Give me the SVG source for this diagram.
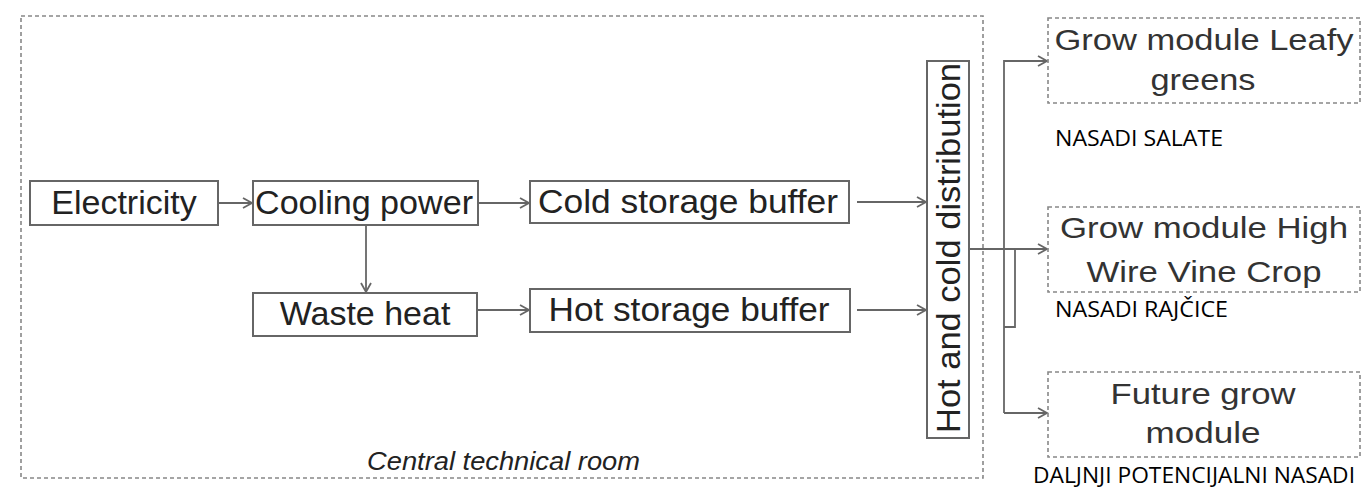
<svg xmlns="http://www.w3.org/2000/svg" width="1366" height="488" viewBox="0 0 1366 488">
<defs>
<style>
.box{fill:#fff;stroke:#666;stroke-width:2}
.dash{fill:none;stroke:#888;stroke-width:1.6;stroke-dasharray:4 3}
.t{font-family:"Liberation Sans",Arial,sans-serif;font-size:34px;fill:#222}
.g{font-family:"Liberation Sans",Arial,sans-serif;font-size:30px;fill:#333}
.n{font-family:"Open Sans","Noto Sans",sans-serif;font-size:21px;fill:#000}
.c{fill:none;stroke:#666;stroke-width:1.8}
</style>
<marker id="ah" markerWidth="12" markerHeight="12" refX="10" refY="6" orient="auto" markerUnits="userSpaceOnUse">
<path d="M1,1 L10,6 L1,11" fill="none" stroke="#666" stroke-width="1.8"/>
</marker>
</defs>
<rect width="1366" height="488" fill="#fff"/>
<g id="room">
<rect x="21" y="16" width="962" height="462" class="dash"/>
<text x="367" y="470" font-family="Liberation Sans,Arial,sans-serif" font-style="italic" font-size="26" fill="#222" textLength="273" lengthAdjust="spacingAndGlyphs">Central technical room</text>
</g>
<g id="connectors">
<path class="c" d="M218,203 H252" marker-end="url(#ah)"/>
<path class="c" d="M478,203 H529" marker-end="url(#ah)"/>
<path class="c" d="M366,225 V292" marker-end="url(#ah)"/>
<path class="c" d="M477,310 H529" marker-end="url(#ah)"/>
<path class="c" d="M857,202 H926" marker-end="url(#ah)"/>
<path class="c" d="M857,310 H926" marker-end="url(#ah)"/>
<path class="c" d="M969,249 H1015"/>
<path class="c" d="M1004,413 V61 H1047" marker-end="url(#ah)"/>
<path class="c" d="M1004,413 H1047" marker-end="url(#ah)"/>
<path class="c" d="M1004,327 H1015 V249 H1047" marker-end="url(#ah)"/>
</g>
<g id="electricity">
<rect x="30" y="181" width="188" height="44" class="box"/>
<text x="124" y="214" class="t" text-anchor="middle">Electricity</text>
</g>
<g id="cooling">
<rect x="253" y="181" width="225" height="44" class="box"/>
<text x="364" y="214" class="t" text-anchor="middle" textLength="218" lengthAdjust="spacingAndGlyphs">Cooling power</text>
</g>
<g id="waste">
<rect x="253" y="293" width="224" height="43" class="box"/>
<text x="365" y="325" class="t" text-anchor="middle">Waste heat</text>
</g>
<g id="cold">
<rect x="530" y="181" width="319" height="42" class="box"/>
<text x="688" y="213" class="t" text-anchor="middle" textLength="300" lengthAdjust="spacingAndGlyphs">Cold storage buffer</text>
</g>
<g id="hot">
<rect x="530" y="289" width="320" height="43" class="box"/>
<text x="689" y="321" class="t" text-anchor="middle" textLength="281" lengthAdjust="spacingAndGlyphs">Hot storage buffer</text>
</g>
<g id="distribution">
<rect x="927" y="61" width="42" height="377" class="box"/>
<text transform="translate(960,433) rotate(-90)" class="t" textLength="370" lengthAdjust="spacingAndGlyphs">Hot and cold distribution</text>
</g>
<g id="leafy">
<rect x="1048" y="18" width="312" height="85" class="dash"/>
<text x="1204" y="50" class="g" text-anchor="middle" textLength="299" lengthAdjust="spacingAndGlyphs">Grow module Leafy</text>
<text x="1203" y="90" class="g" text-anchor="middle" textLength="105" lengthAdjust="spacingAndGlyphs">greens</text>
<text x="1055" y="146" class="n" textLength="168" lengthAdjust="spacingAndGlyphs">NASADI SALATE</text>
</g>
<g id="highwire">
<rect x="1048" y="207" width="312" height="85" class="dash"/>
<text x="1204" y="238" class="g" text-anchor="middle" textLength="288" lengthAdjust="spacingAndGlyphs">Grow module High</text>
<text x="1204" y="282" class="g" text-anchor="middle" textLength="235" lengthAdjust="spacingAndGlyphs">Wire Vine Crop</text>
<text x="1055" y="317" class="n" textLength="173" lengthAdjust="spacingAndGlyphs">NASADI RAJČICE</text>
</g>
<g id="future">
<rect x="1048" y="372" width="312" height="85" class="dash"/>
<text x="1203" y="404" class="g" text-anchor="middle" textLength="185" lengthAdjust="spacingAndGlyphs">Future grow</text>
<text x="1203" y="443" class="g" text-anchor="middle" textLength="115" lengthAdjust="spacingAndGlyphs">module</text>
<text x="1033" y="483" class="n" textLength="322" lengthAdjust="spacingAndGlyphs">DALJNJI POTENCIJALNI NASADI</text>
</g>
</svg>
